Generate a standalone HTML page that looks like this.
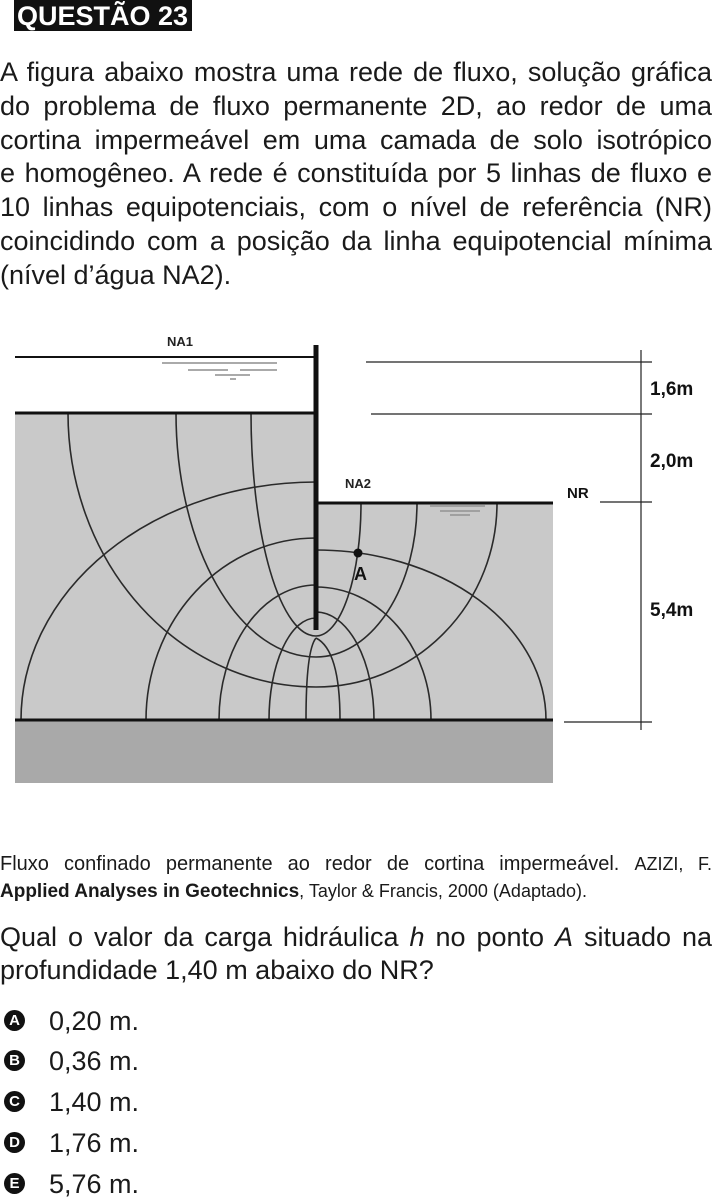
<!DOCTYPE html>
<html><head><meta charset="utf-8">
<style>
html,body{margin:0;padding:0;background:#fff;}
body{width:712px;height:1198px;position:relative;overflow:hidden;font-family:"Liberation Sans Narrow","Liberation Sans",sans-serif;color:#1a1a1a;}
.hdr{position:absolute;left:14px;top:0;width:178px;height:31px;background:#111;color:#fff;font-weight:bold;font-size:27px;line-height:33px;}
.hdr span{padding-left:3px;white-space:nowrap;}
.blk{position:absolute;left:0;width:712px;}
.ln{text-align:justify;text-align-last:justify;white-space:nowrap;}
.ln.last{text-align-last:left;}
.opt{position:absolute;left:2px;font-size:27px;height:30px;}
.badge{position:absolute;left:2px;top:4px;width:21px;height:21px;border-radius:50%;background:#111;color:#fff;font-family:"Liberation Sans",sans-serif;font-weight:bold;font-size:15px;line-height:21px;text-align:center;}
.otxt{position:absolute;left:47px;top:0;white-space:nowrap;line-height:30px;}
</style></head>
<body>
<div class="hdr"><span>QUESTÃO 23</span></div>

<div class="blk" style="top:56px;font-size:27px;line-height:33.8px;">
<div class="ln">A figura abaixo mostra uma rede de fluxo, solução gráfica</div>
<div class="ln">do problema de fluxo permanente 2D, ao redor de uma</div>
<div class="ln">cortina impermeável em uma camada de solo isotrópico</div>
<div class="ln">e homogêneo. A rede é constituída por 5 linhas de fluxo e</div>
<div class="ln">10 linhas equipotenciais, com o nível de referência (NR)</div>
<div class="ln">coincidindo com a posição da linha equipotencial mínima</div>
<div class="ln last">(nível d’água NA2).</div>
</div>

<svg id="fig" style="position:absolute;left:0;top:320px;" width="712" height="480" viewBox="0 320 712 480">
<rect x="15" y="413" width="301" height="307" fill="#c9c9c9"/>
<rect x="316" y="503" width="237" height="217" fill="#c9c9c9"/>
<rect x="15" y="720" width="538" height="63" fill="#a9a9a9"/>
<g id="net" fill="none" stroke="#2a2a2a" stroke-width="1.6"></g>
<line x1="15" y1="357" x2="316" y2="357" stroke="#111" stroke-width="2"/>
<g stroke="#555" stroke-width="1">
<line x1="162" y1="363" x2="277" y2="363"/><line x1="188" y1="370" x2="228" y2="370"/><line x1="240" y1="370" x2="277" y2="370"/><line x1="215" y1="375" x2="250" y2="375"/><line x1="230" y1="379" x2="236" y2="379"/>
</g>
<g stroke="#777" stroke-width="1"><line x1="430" y1="506" x2="485" y2="506"/><line x1="440" y1="511" x2="480" y2="511"/><line x1="450" y1="515" x2="470" y2="515"/></g>
<line x1="15" y1="413" x2="316" y2="413" stroke="#111" stroke-width="3"/>
<line x1="316" y1="503" x2="553" y2="503" stroke="#111" stroke-width="3"/>
<line x1="15" y1="720" x2="553" y2="720" stroke="#111" stroke-width="3"/>
<line x1="316" y1="345" x2="316" y2="630" stroke="#111" stroke-width="5"/>
<circle cx="358" cy="553" r="4.5" fill="#111"/>
<text x="354" y="580" font-family="Liberation Sans Narrow,Liberation Sans,sans-serif" font-weight="bold" font-size="18" fill="#111">A</text>
<text x="167" y="346" font-family="Liberation Sans,sans-serif" font-weight="bold" font-size="13" fill="#222">NA1</text>
<text x="345" y="488" font-family="Liberation Sans,sans-serif" font-weight="bold" font-size="13" fill="#222">NA2</text>
<text x="567" y="498" font-family="Liberation Sans,sans-serif" font-weight="bold" font-size="15" fill="#111">NR</text>
<g stroke="#222" stroke-width="1.2">
<line x1="641" y1="350" x2="641" y2="730"/>
<line x1="366" y1="362" x2="652" y2="362"/>
<line x1="371" y1="414" x2="652" y2="414"/>
<line x1="600" y1="502" x2="652" y2="502"/>
<line x1="564" y1="722" x2="652" y2="722"/>
</g>
<g font-family="Liberation Sans Narrow,Liberation Sans,sans-serif" font-weight="bold" font-size="19" fill="#111">
<text x="650" y="395">1,6m</text>
<text x="650" y="467">2,0m</text>
<text x="650" y="616">5,4m</text>
</g>
</svg>

<div class="blk" style="top:851px;font-size:20px;line-height:27px;">
<div class="ln">Fluxo confinado permanente ao redor de cortina impermeável. <span style="font-size:18px">AZIZI, F.</span></div>
<div class="ln last" style="font-size:18px"><b style="font-size:19px">Applied Analyses in Geotechnics</b>, Taylor &amp; Francis, 2000 (Adaptado).</div>
</div>

<div class="blk" style="top:921px;font-size:27px;line-height:33px;">
<div class="ln">Qual o valor da carga hidráulica <i>h</i> no ponto <i>A</i> situado na</div>
<div class="ln last">profundidade 1,40 m abaixo do NR?</div>
</div>

<div class="opt" style="top:1006px"><div class="badge">A</div><div class="otxt">0,20 m.</div></div>
<div class="opt" style="top:1046px"><div class="badge">B</div><div class="otxt">0,36 m.</div></div>
<div class="opt" style="top:1087px"><div class="badge">C</div><div class="otxt">1,40 m.</div></div>
<div class="opt" style="top:1128px"><div class="badge">D</div><div class="otxt">1,76 m.</div></div>
<div class="opt" style="top:1169px"><div class="badge">E</div><div class="otxt">5,76 m.</div></div>

<script>
// flow lines: left-surface x, bottom y under wall, right-surface x
const flowLeftX = [251, 176, 68];
const flowBottomY = [636, 657, 687];
const flowRightX = [361, 417, 497];
// equipotentials: left side (start y on wall, end x on base)
const eqLeftWallY = [482, 538, 585, 618];
const eqLeftBaseX = [21, 146, 219, 269];
// right side
const eqRightWallY = [550, 587, 612];
const eqRightBaseX = [546, 431, 374];
// central lines from tip
const tipBaseX = [306, 340];

const WALL = 316, TOPL = 413, TOPR = 503, BASE = 720, TIP = 630;
const g = document.getElementById('net');
const NS = 'http://www.w3.org/2000/svg';
function add(d, name) {
  const p = document.createElementNS(NS, 'path');
  p.setAttribute('d', d);
  
  
  g.appendChild(p);
}
flowLeftX.forEach((xl, i) => {
  const yb = flowBottomY[i], xr = flowRightX[i];
  const d = `M${xl},${TOPL} A${WALL - xl},${yb - TOPL} 0 0 0 ${WALL},${yb} A${xr - WALL},${yb - TOPR} 0 0 0 ${xr},${TOPR}`;
  add(d, 'flow-line');
});
eqLeftWallY.forEach((y0, i) => {
  const xb = eqLeftBaseX[i];
  add(`M${WALL},${y0} A${WALL - xb},${BASE - y0} 0 0 0 ${xb},${BASE}`, 'equipotential-line');
});
eqRightWallY.forEach((y0, i) => {
  const xb = eqRightBaseX[i];
  add(`M${WALL},${y0} A${xb - WALL},${BASE - y0} 0 0 1 ${xb},${BASE}`, 'equipotential-line');
});
tipBaseX.forEach(xb => {
  add(`M${WALL},${TIP + 8} Q${xb},${TIP + 20} ${xb},${BASE}`, 'equipotential-line');
});
</script>
</body></html>
